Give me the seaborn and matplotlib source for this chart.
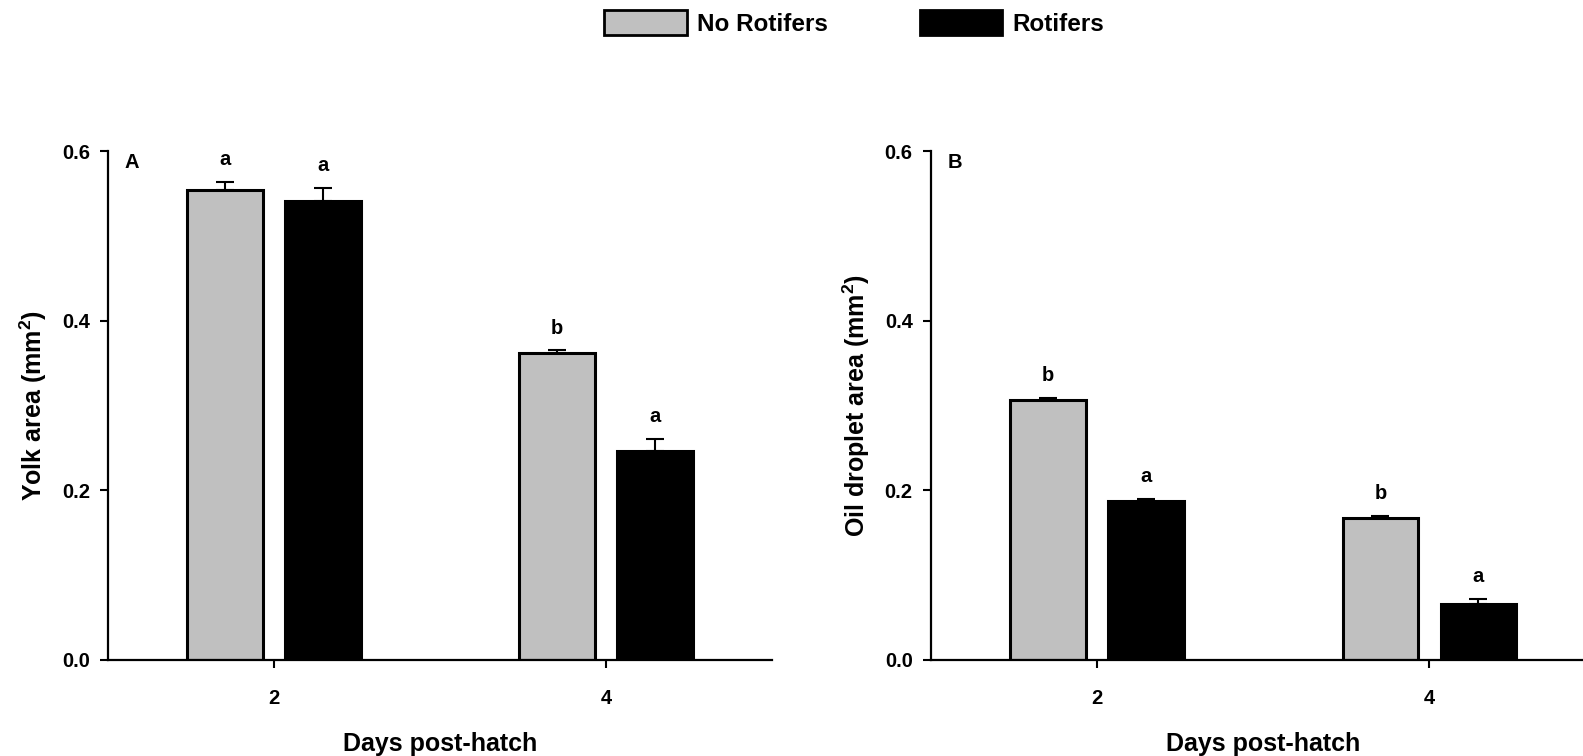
import numpy as np
import pandas as pd
import matplotlib
matplotlib.use('Agg')
import matplotlib.pyplot as plt
import seaborn as sns
from matplotlib.patches import Patch

# values
days = ['2', '4']
treatments = ['No Rotifers', 'Rotifers']
yolk_no_rot = [0.554, 0.362]
yolk_rot = [0.541, 0.246]
yolk_no_rot_se = [0.010, 0.003]
yolk_rot_se = [0.016, 0.015]
yolk_letters_no_rot = ['a', 'b']
yolk_letters_rot = ['a', 'a']

oil_no_rot = [0.307, 0.168]
oil_rot = [0.188, 0.066]
oil_no_rot_se = [0.002, 0.002]
oil_rot_se = [0.002, 0.006]
oil_letters_no_rot = ['b', 'b']
oil_letters_rot = ['a', 'a']

colors = {'No Rotifers': '#c0c0c0', 'Rotifers': '#000000'}

sns.set_style('ticks')
plt.rcParams['font.family'] = ['Liberation Sans', 'DejaVu Sans']
plt.rcParams['font.weight'] = 'bold'
plt.rcParams['text.color'] = 'black'
plt.rcParams['axes.labelcolor'] = 'black'
plt.rcParams['xtick.color'] = 'black'
plt.rcParams['ytick.color'] = 'black'
plt.rcParams['axes.edgecolor'] = 'black'
plt.rcParams['mathtext.fontset'] = 'custom'
plt.rcParams['mathtext.rm'] = 'Liberation Sans:bold'
plt.rcParams['mathtext.bf'] = 'Liberation Sans:bold'


def make_df(no_rot, rot, no_rot_se, rot_se, let_no, let_rot):
    rows = []
    for i, d in enumerate(days):
        rows.append([d, 'No Rotifers', no_rot[i], no_rot_se[i], let_no[i]])
        rows.append([d, 'Rotifers', rot[i], rot_se[i], let_rot[i]])
    return pd.DataFrame(rows, columns=['day', 'treatment', 'area', 'se', 'letter'])


yolk = make_df(yolk_no_rot, yolk_rot, yolk_no_rot_se, yolk_rot_se, yolk_letters_no_rot, yolk_letters_rot)
oil = make_df(oil_no_rot, oil_rot, oil_no_rot_se, oil_rot_se, oil_letters_no_rot, oil_letters_rot)

fig = plt.figure(figsize=(15.83, 7.56), dpi=100)
axA = fig.add_axes([0.0682, 0.127, 0.4195, 0.673])
axB = fig.add_axes([0.588, 0.127, 0.42, 0.673])


def draw(ax, df, ylabel, panel):
    sns.barplot(data=df, x='day', y='area', hue='treatment', order=days,
                hue_order=treatments, palette=colors, errorbar=None,
                width=0.59, gap=0.23, edgecolor='black', linewidth=2.2,
                legend=False, ax=ax)
    # upper error bars + letters, positions taken from the drawn bars
    for trt, cont in zip(treatments, ax.containers):
        sub = df[df['treatment'] == trt].set_index('day').loc[days]
        for bar, (_, r) in zip(cont, sub.iterrows()):
            xc = bar.get_x() + bar.get_width() / 2
            h = bar.get_height()
            ax.errorbar(xc, h, yerr=[[0], [r['se']]], fmt='none', ecolor='black',
                        elinewidth=1.5, capsize=6.5, capthick=1.5)
            ax.annotate(r['letter'], (xc, h + r['se']), xytext=(0, 9),
                        textcoords='offset points', ha='center', va='bottom',
                        fontsize=14.5, fontweight='bold')
    ax.set_ylim(0, 0.6)
    ax.set_xlim(-0.5, 1.5)
    ax.set_yticks([0.0, 0.2, 0.4, 0.6])
    ax.set_yticklabels(['0.0', '0.2', '0.4', '0.6'])
    ax.set_xlabel('Days post-hatch', fontsize=18, fontweight='bold', labelpad=17)
    ax.set_ylabel(ylabel, fontsize=18, fontweight='bold', labelpad=9)
    ax.tick_params(axis='both', direction='out', length=6, width=1.5, labelsize=14.5)
    ax.tick_params(axis='x', pad=15)
    ax.tick_params(axis='y', pad=7)
    for lab in ax.get_xticklabels() + ax.get_yticklabels():
        lab.set_fontweight('bold')
    sns.despine(ax=ax)
    for s in ['left', 'bottom']:
        ax.spines[s].set_linewidth(1.6)
    ax.text(0.025, 0.997, panel, transform=ax.transAxes, fontsize=14.5,
            fontweight='bold', ha='left', va='top')


draw(axA, yolk, r'Yolk area (mm$^{2}$)', 'A')
draw(axB, oil, r'Oil droplet area (mm$^{2}$)', 'B')

handles = [Patch(facecolor=colors[t], edgecolor='black', linewidth=2) for t in treatments]
fig.legend(handles, treatments, loc='center', bbox_to_anchor=(0.5395, 0.97), ncol=2,
           frameon=False, handlelength=3.4, handleheight=1.2,
           handletextpad=0.4, columnspacing=3.8, prop={'weight': 'bold', 'size': 17.5})

fig.savefig('out.png', dpi=100)
